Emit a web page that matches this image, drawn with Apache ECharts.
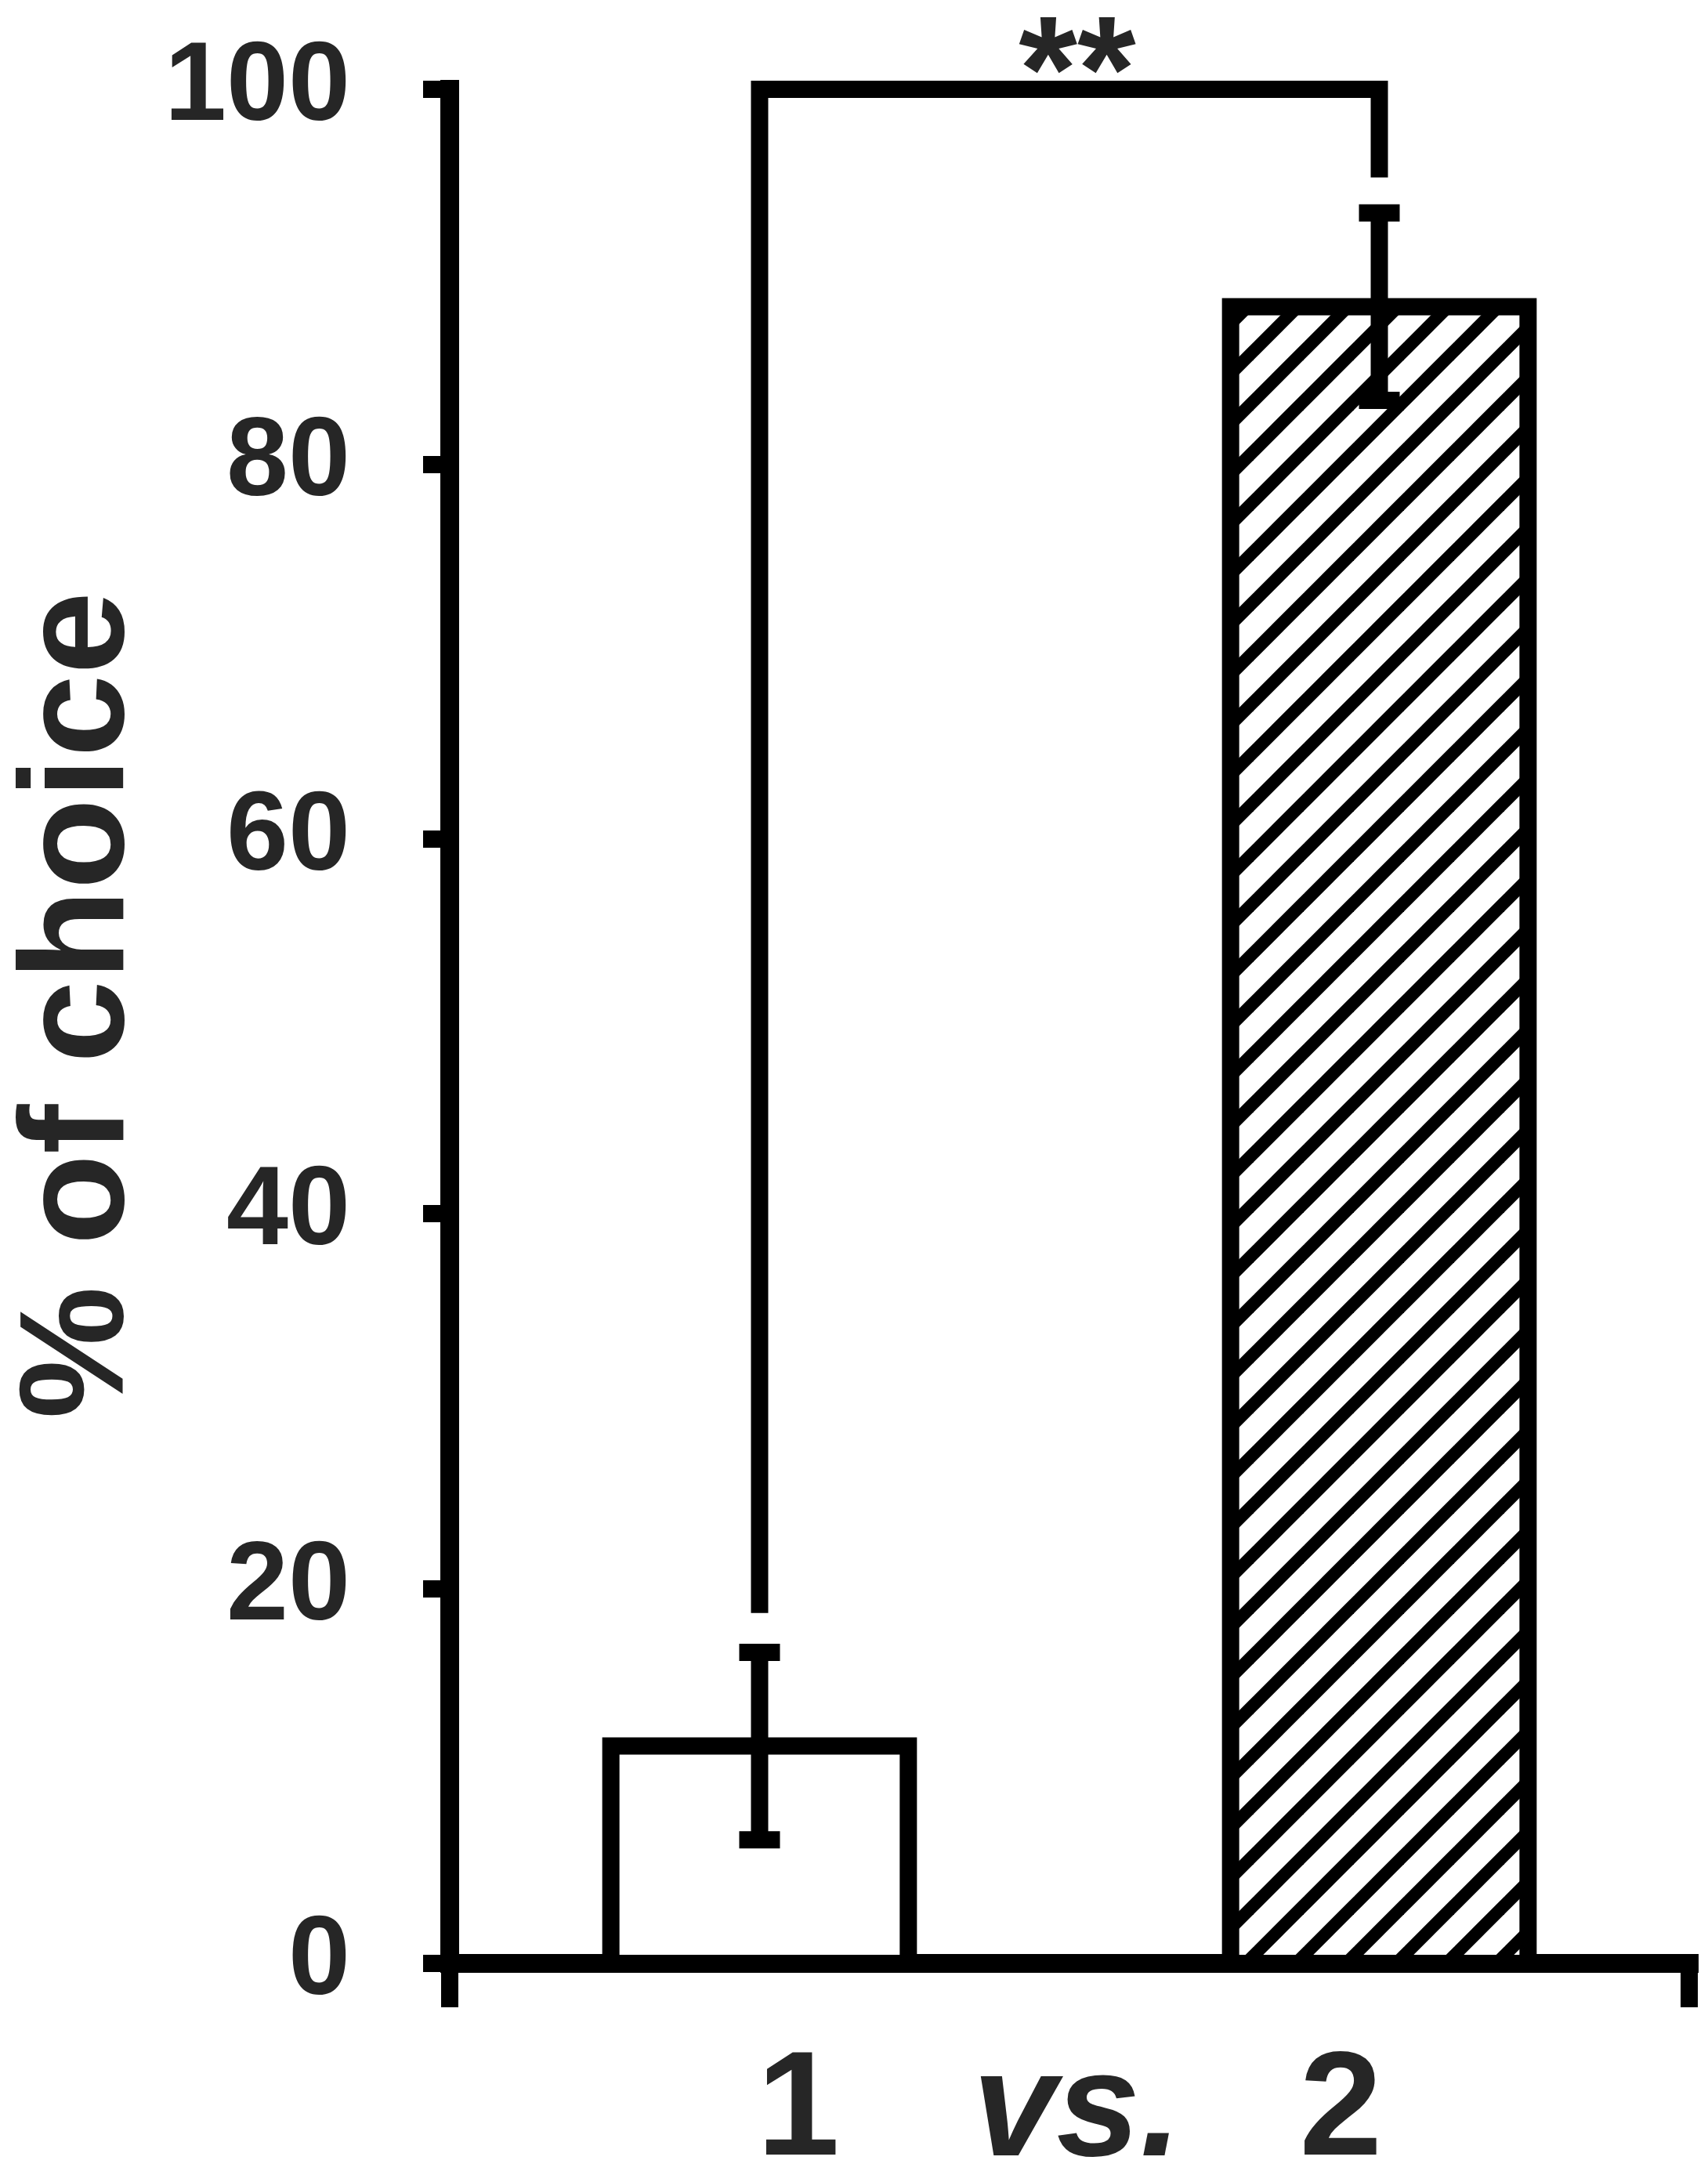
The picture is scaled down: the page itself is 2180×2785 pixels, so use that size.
<!DOCTYPE html>
<html>
<head>
<meta charset="utf-8">
<script src="https://cdn.jsdelivr.net/npm/echarts@6/dist/echarts.min.js"></script>
<style>
  html, body { margin: 0; padding: 0; background: #ffffff; }
  #chart { width: 2180px; height: 2785px; }
</style>
</head>
<body>
<div id="chart"></div>
<script>
// ---- data ----
const categories = ['1', '2'];
const compareWord = 'vs.';
const means = [11.6, 88.4];
const errors = [5.0, 5.0];
const yMin = 0, yMax = 100, yStep = 20;
const yTitle = '% of choice';
// significance bracket: [left foot, top, right foot] in y values
const bracketLevels = [18.7, 100, 95.3];
const sigLabel = '**';

const FONT = '"Liberation Sans", Arial, Helvetica, sans-serif';
const TXT = '#262626';

// hatch pattern for the second bar
function makeHatch() {
  const s = 64;
  const c = document.createElement('canvas');
  c.width = s; c.height = s;
  const g = c.getContext('2d');
  g.fillStyle = '#ffffff';
  g.fillRect(0, 0, s, s);
  g.strokeStyle = '#000000';
  g.lineWidth = 16;
  g.lineCap = 'butt';
  [[-10, s + 10, s + 10, -10], [-10, 10, 10, -10], [s - 10, s + 10, s + 10, s - 10]].forEach(l => {
    g.beginPath(); g.moveTo(l[0], l[1]); g.lineTo(l[2], l[3]); g.stroke();
  });
  return c;
}
const hatch = makeHatch();
const barFills = ['#ffffff', { image: hatch, repeat: 'repeat' }];

const chart = echarts.init(document.getElementById('chart'), null, { renderer: 'canvas' });

const barData = means.map((v, i) => [i, v]);
const errData = means.map((m, i) => [i, m - errors[i], m + errors[i]]);

const option = {
  backgroundColor: '#ffffff',
  animation: false,
  grid: { left: 574, right: 24, top: 114, bottom: 279, containLabel: false, outerBoundsMode: 'none' },
  xAxis: {
    type: 'category',
    data: categories,
    boundaryGap: true,
    axisLine: { lineStyle: { color: '#000', width: 24, cap: 'square' } },
    axisTick: { show: true, interval: 1, length: 56, lineStyle: { color: '#000', width: 22 } },
    axisLabel: { show: false },
    splitLine: { show: false },
    name: '{n|' + categories[0] + '}{g| }{i|' + compareWord + '}{h| }{n|' + categories[1] + '}',
    nameLocation: 'middle',
    nameGap: 96,
    nameTextStyle: {
      rich: {
        n: { fontFamily: FONT, fontWeight: 'bold', fontSize: 190, color: TXT, lineHeight: 192 },
        i: { fontFamily: FONT, fontWeight: 'bold', fontStyle: 'italic', fontSize: 192, color: TXT, lineHeight: 192 },
        g: { width: 170, fontSize: 192, lineHeight: 192 },
        h: { width: 150, fontSize: 192, lineHeight: 192 }
      }
    }
  },
  yAxis: {
    type: 'value',
    min: yMin, max: yMax, interval: yStep,
    axisLine: { show: true, lineStyle: { color: '#000', width: 24, cap: 'square' } },
    axisTick: { show: true, length: 34, lineStyle: { color: '#000', width: 22 } },
    axisLabel: {
      margin: 127,
      fontFamily: FONT, fontWeight: 'bold', fontSize: 142, color: TXT
    },
    splitLine: { show: false },
    name: yTitle,
    nameLocation: 'middle',
    nameRotate: 90,
    nameGap: 362,
    nameTextStyle: {
      fontFamily: FONT, fontWeight: 'bold', fontSize: 190, color: TXT,
      lineHeight: 190, padding: [0, 0, 0, 54]
    }
  },
  series: [
    {
      type: 'custom',
      data: barData,
      z: 2,
      renderItem: function (params, api) {
        const i = api.value(0);
        const top = api.coord([i, api.value(1)]);
        const base = api.coord([i, 0]);
        const w = api.size([1, 0])[0] * 0.48;
        return {
          type: 'rect',
          shape: { x: top[0] - w / 2, y: top[1], width: w, height: base[1] - top[1] },
          style: { fill: barFills[i], stroke: '#000', lineWidth: 22, lineJoin: 'miter' }
        };
      }
    },
    {
      type: 'custom',
      data: errData,
      z: 5,
      renderItem: function (params, api) {
        const x = api.value(0);
        const lo = api.coord([x, api.value(1)]);
        const hi = api.coord([x, api.value(2)]);
        const capHalf = 26;
        const st = { stroke: '#000', lineWidth: 22 };
        return {
          type: 'group',
          children: [
            { type: 'line', shape: { x1: lo[0], y1: lo[1], x2: hi[0], y2: hi[1] }, style: st },
            { type: 'line', shape: { x1: hi[0] - capHalf, y1: hi[1], x2: hi[0] + capHalf, y2: hi[1] }, style: st },
            { type: 'line', shape: { x1: lo[0] - capHalf, y1: lo[1], x2: lo[0] + capHalf, y2: lo[1] }, style: st }
          ]
        };
      }
    },
    {
      type: 'custom',
      data: [[0, 1]],
      z: 6,
      renderItem: function (params, api) {
        const a = api.value(0), b = api.value(1);
        const p1 = api.coord([a, bracketLevels[0]]);
        const p2 = api.coord([a, bracketLevels[1]]);
        const p3 = api.coord([b, bracketLevels[1]]);
        const p4 = api.coord([b, bracketLevels[2]]);
        return {
          type: 'group',
          children: [
            {
              type: 'polyline',
              shape: { points: [p1, p2, p3, p4] },
              style: { stroke: '#000', lineWidth: 22, fill: null, lineJoin: 'miter', lineCap: 'butt' }
            },
            {
              type: 'text',
              x: (p2[0] + p3[0]) / 2 + 10,
              y: p2[1] - 13,
              style: {
                text: sigLabel,
                font: 'bold 192px ' + FONT,
                fill: TXT,
                align: 'center',
                verticalAlign: 'middle'
              }
            }
          ]
        };
      }
    }
  ]
};

chart.setOption(option);
</script>
</body>
</html>
